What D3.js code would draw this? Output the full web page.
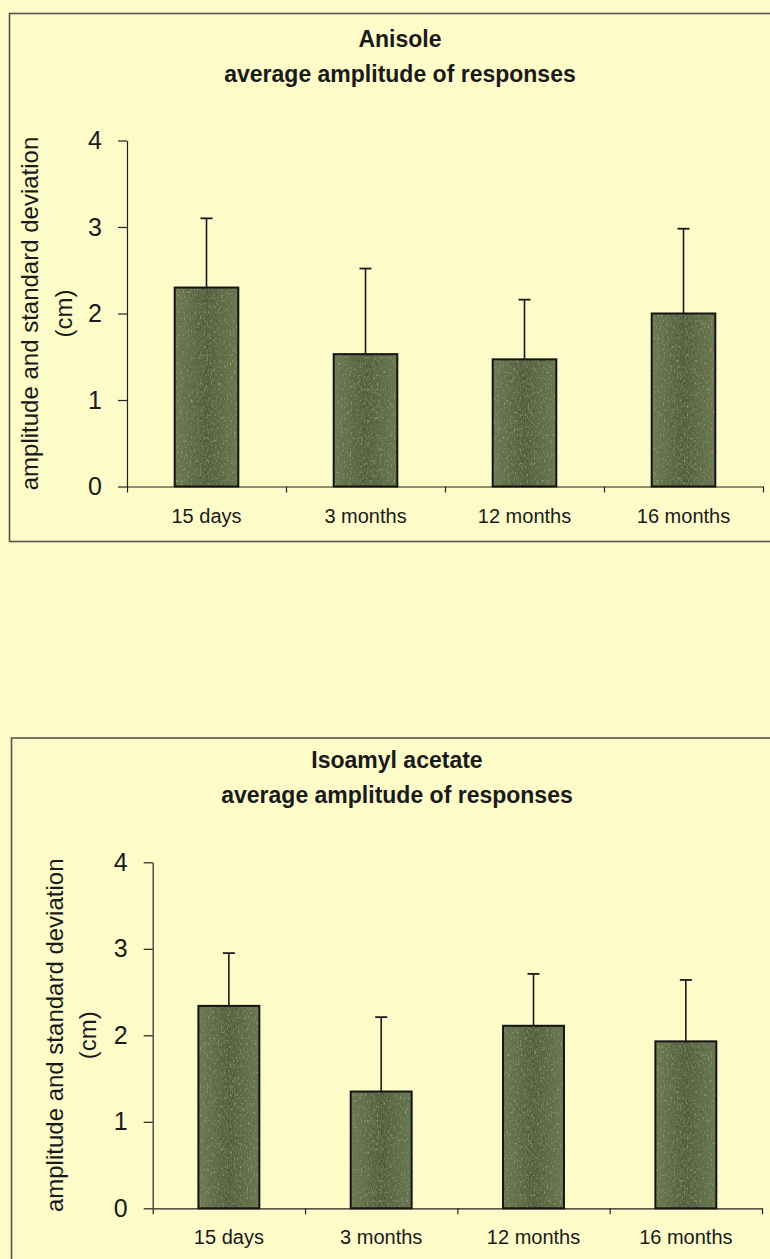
<!DOCTYPE html>
<html>
<head>
<meta charset="utf-8">
<script src="https://cdn.jsdelivr.net/npm/d3@7"></script>
<style>
  html, body { margin: 0; padding: 0; background: #fdfbc8; }
  svg { display: block; }
  text { font-family: "Liberation Sans", Arial, sans-serif; fill: #1a1a1a; }
</style>
</head>
<body>
<svg id="chart" width="770" height="1259"></svg>
<script>
// ---- data ----
const categories = ["15 days", "3 months", "12 months", "16 months"];
const anisoleMean = [2.30, 1.53, 1.47, 2.00];
const anisoleSD   = [0.80, 0.99, 0.69, 0.98];
const isoamylMean = [2.34, 1.35, 2.11, 1.93];
const isoamylSD   = [0.61, 0.86, 0.60, 0.71];
const yTicks = [0, 1, 2, 3, 4];
const anisoleTitle = ["Anisole", "average amplitude of responses"];
const isoamylTitle = ["Isoamyl acetate", "average amplitude of responses"];
const yAxisTitle = ["amplitude and standard deviation", "(cm)"];

// ---- layout ----
const panels = [
  { title: anisoleTitle, mean: anisoleMean, sd: anisoleSD,
    frame: { x: 9.5, y: 13.5, w: 800, h: 528 },
    plot: { x0: 127, x1: 763, yBottom: 486.5, yTop: 140.5 },
    titleX: 400, titleY: [46.5, 81.5], yTitleX: [30, 64] },
  { title: isoamylTitle, mean: isoamylMean, sd: isoamylSD,
    frame: { x: 11.5, y: 738, w: 800, h: 560 },
    plot: { x0: 152.7, x1: 762, yBottom: 1208.3, yTop: 862.3 },
    titleX: 397, titleY: [768, 803], yTitleX: [55, 88] }
];

const svg = d3.select("#chart");
svg.append("rect").attr("width", 770).attr("height", 1259).attr("fill", "#fdfbc8");

// bar shading: darker vertical core plus a speckled grain
const defs = svg.append("defs");
const grad = defs.append("linearGradient").attr("id", "barShade")
  .attr("x1", "0%").attr("x2", "100%").attr("y1", "0%").attr("y2", "0%");
grad.append("stop").attr("offset", "0%").attr("stop-color", "#6c7b51");
grad.append("stop").attr("offset", "50%").attr("stop-color", "#4b5836");
grad.append("stop").attr("offset", "100%").attr("stop-color", "#68774d");

const grain = defs.append("filter").attr("id", "grain")
  .attr("x", "0").attr("y", "0").attr("width", "1").attr("height", "1");
grain.append("feTurbulence").attr("type", "fractalNoise")
  .attr("baseFrequency", "0.7 0.35").attr("numOctaves", 2).attr("seed", 7).attr("result", "noise");
grain.append("feColorMatrix").attr("in", "noise").attr("type", "matrix")
  .attr("values", "0 0 0 0 0.16  0 0 0 0 0.2  0 0 0 0 0.1  1.8 0 0 0 -0.62")
  .attr("result", "dark");
grain.append("feColorMatrix").attr("in", "noise").attr("type", "matrix")
  .attr("values", "0 0 0 0 0.55  0 0 0 0 0.62  0 0 0 0 0.42  0 1.6 0 0 -0.95")
  .attr("result", "light");
grain.append("feComposite").attr("in", "dark").attr("in2", "SourceGraphic")
  .attr("operator", "in").attr("result", "darkIn");
grain.append("feComposite").attr("in", "light").attr("in2", "SourceGraphic")
  .attr("operator", "in").attr("result", "lightIn");
const merge = grain.append("feMerge");
merge.append("feMergeNode").attr("in", "SourceGraphic");
merge.append("feMergeNode").attr("in", "darkIn");
merge.append("feMergeNode").attr("in", "lightIn");

panels.forEach(p => {
  const g = svg.append("g");

  // outer frame
  g.append("rect")
    .attr("x", p.frame.x).attr("y", p.frame.y)
    .attr("width", p.frame.w).attr("height", p.frame.h)
    .attr("fill", "none").attr("stroke", "#55554a").attr("stroke-width", 1.6);

  // titles
  p.title.forEach((t, i) => {
    g.append("text")
      .attr("x", p.titleX).attr("y", p.titleY[i])
      .attr("text-anchor", "middle")
      .attr("font-size", 23).attr("font-weight", "bold")
      .text(t);
  });

  const x = d3.scaleBand().domain(categories)
    .range([p.plot.x0, p.plot.x1])
    .paddingInner(0.6).paddingOuter(0.3);
  const xEdges = d3.scaleLinear().domain([0, categories.length])
    .range([p.plot.x0, p.plot.x1]);
  const y = d3.scaleLinear().domain([0, 4])
    .range([p.plot.yBottom, p.plot.yTop]);

  // y axis
  const yAxis = g.append("g")
    .attr("transform", `translate(${p.plot.x0},0)`)
    .call(d3.axisLeft(y).tickValues(yTicks).tickFormat(d3.format("d"))
      .tickSize(9).tickSizeOuter(0).tickPadding(16));
  yAxis.select(".domain").attr("stroke", "#222").attr("stroke-width", 1.2);
  yAxis.selectAll(".tick line").attr("stroke", "#222").attr("stroke-width", 1.2);
  yAxis.selectAll(".tick text")
    .attr("font-size", 25).attr("font-family", "Liberation Sans, Arial, sans-serif")
    .attr("fill", "#1a1a1a");

  // x axis: line with ticks at the category boundaries
  const xLine = g.append("g")
    .attr("transform", `translate(0,${p.plot.yBottom})`)
    .call(d3.axisBottom(xEdges).tickValues(d3.range(categories.length + 1))
      .tickFormat("").tickSize(6).tickSizeOuter(0));
  xLine.select(".domain").attr("stroke", "#222").attr("stroke-width", 1.2);
  xLine.selectAll(".tick line").attr("stroke", "#222").attr("stroke-width", 1.2);

  // x category labels
  const xLab = g.append("g")
    .attr("transform", `translate(0,${p.plot.yBottom})`)
    .call(d3.axisBottom(x).tickSize(0).tickPadding(22));
  xLab.select(".domain").remove();
  xLab.selectAll(".tick text")
    .attr("font-size", 20).attr("font-family", "Liberation Sans, Arial, sans-serif")
    .attr("fill", "#1a1a1a");

  // y axis title, two rotated lines
  const yMid = (p.plot.yBottom + p.plot.yTop) / 2;
  yAxisTitle.forEach((t, i) => {
    g.append("text")
      .attr("transform", `translate(${p.yTitleX[i]},${yMid}) rotate(-90)`)
      .attr("text-anchor", "middle").attr("dy", "0.35em")
      .attr("font-size", 24)
      .text(t);
  });

  const rows = categories.map((c, i) => ({ c, m: p.mean[i], s: p.sd[i] }));

  // error bars (drawn first so the bar outline sits on top)
  const err = g.append("g").selectAll("g").data(rows).join("g");
  err.append("line")
    .attr("x1", d => x(d.c) + x.bandwidth() / 2)
    .attr("x2", d => x(d.c) + x.bandwidth() / 2)
    .attr("y1", d => y(d.m)).attr("y2", d => y(d.m + d.s))
    .attr("stroke", "#1a1a1a").attr("stroke-width", 1.6);
  err.append("line")
    .attr("x1", d => x(d.c) + x.bandwidth() / 2 - 6)
    .attr("x2", d => x(d.c) + x.bandwidth() / 2 + 6)
    .attr("y1", d => y(d.m + d.s)).attr("y2", d => y(d.m + d.s))
    .attr("stroke", "#1a1a1a").attr("stroke-width", 1.8);

  // bars: grained fill, then outline
  g.append("g").selectAll("rect").data(rows).join("rect")
    .attr("x", d => x(d.c)).attr("width", x.bandwidth())
    .attr("y", d => y(d.m)).attr("height", d => y(0) - y(d.m))
    .attr("fill", "url(#barShade)").attr("filter", "url(#grain)");
  g.append("g").selectAll("rect").data(rows).join("rect")
    .attr("x", d => x(d.c)).attr("width", x.bandwidth())
    .attr("y", d => y(d.m)).attr("height", d => y(0) - y(d.m))
    .attr("fill", "none").attr("stroke", "#141414").attr("stroke-width", 2);
});
</script>
</body>
</html>
